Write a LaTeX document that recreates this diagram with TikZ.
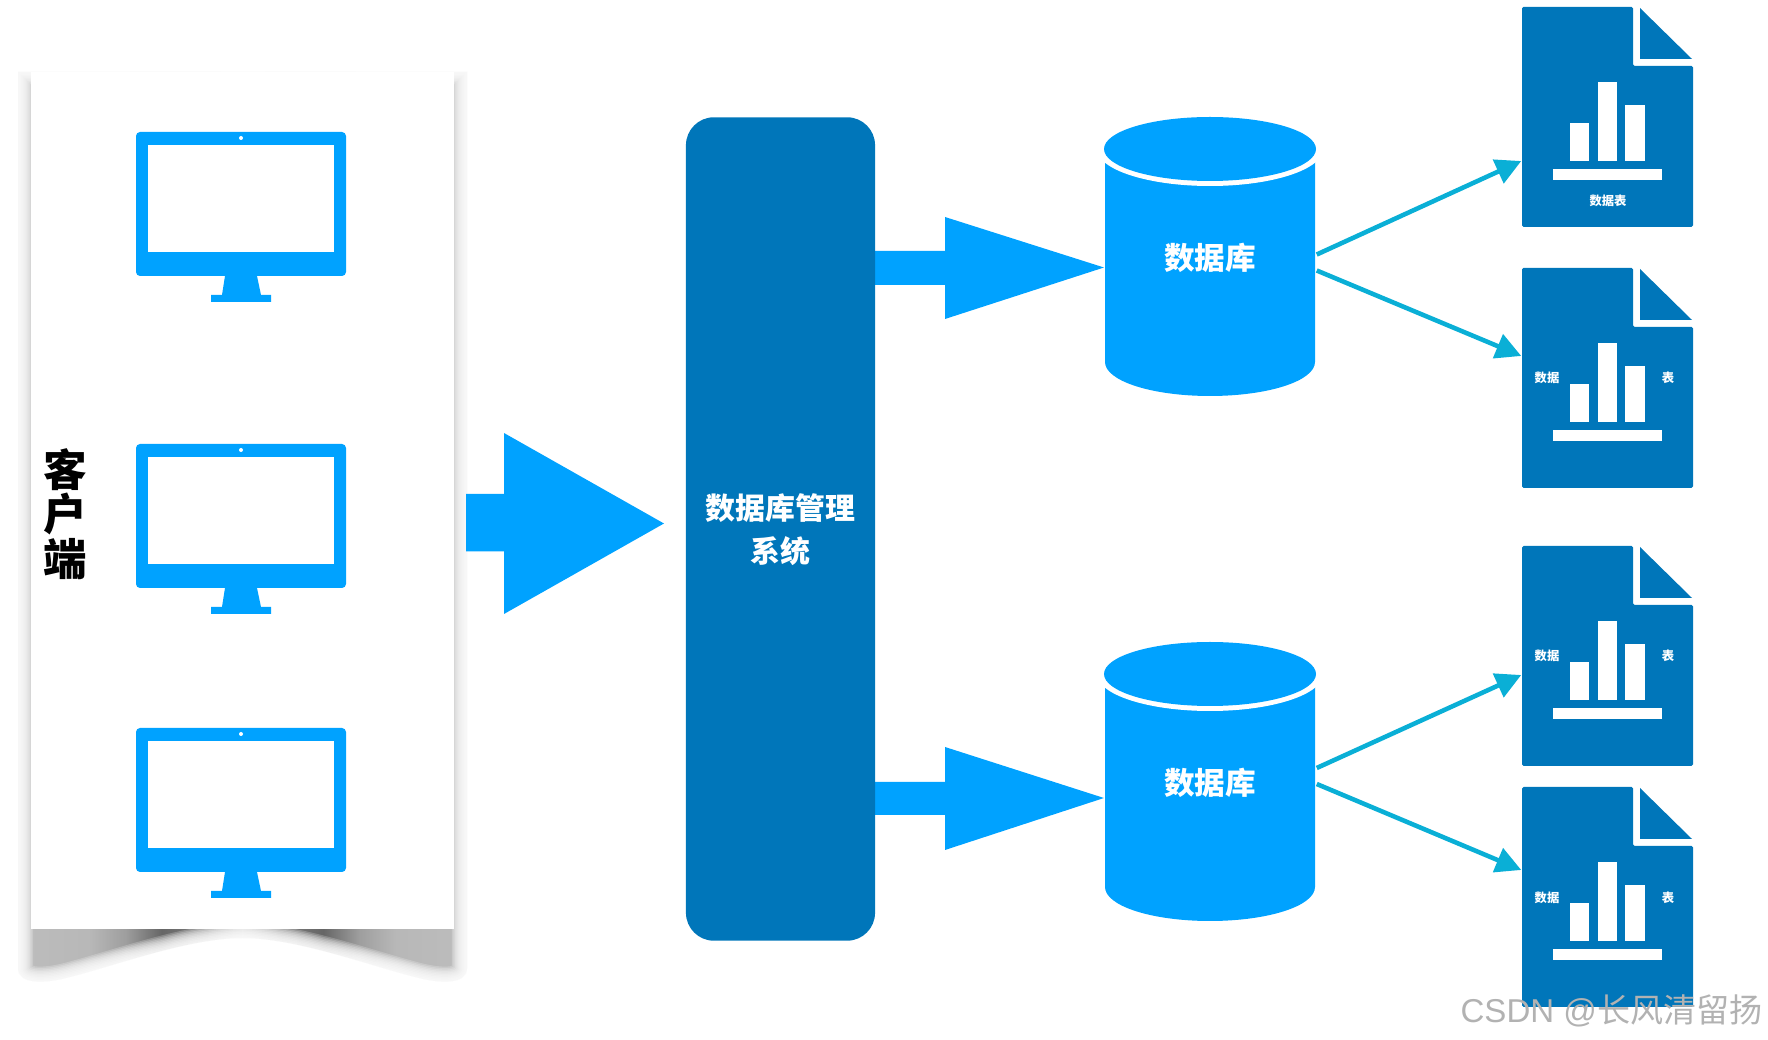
\documentclass[tikz,border=0pt]{standalone}
\usepackage{xcolor}
\usepackage{fontspec}
\usetikzlibrary{arrows.meta}
\setmainfont{Noto Sans CJK SC}
\newfontfamily\latinfont{Liberation Sans}

\definecolor{skyblue}{HTML}{00A2FF}
\definecolor{deepblue}{HTML}{0076BA}
\definecolor{linkblue}{HTML}{0AAFD6}

\pgfdeclarehorizontalshading{shadowshade}{100bp}{
    color(0bp)=(black!26); color(25bp)=(black!26); color(33bp)=(black!28);
    color(37bp)=(black!38); color(41bp)=(black!60); color(46bp)=(black!50); color(50bp)=(black!26);
    color(54bp)=(black!50); color(59bp)=(black!60); color(63bp)=(black!38); color(67bp)=(black!28);
    color(75bp)=(black!26); color(100bp)=(black!26)}

\newcommand{\shadowoutline}{(18,72) -- (18,968)
    .. controls (18,983) and (40,985) .. (70,977)
    .. controls (120,964) and (190,938) .. (242.5,938)
    .. controls (295,938) and (365,964) .. (415,977)
    .. controls (445,985) and (467,983) .. (467,968)
    -- (467,72) -- cycle}

\begin{document}
\begin{tikzpicture}[
    x=0.01cm, y=-0.01cm,
    >={Triangle[length=7.2pt,width=7.2pt]},
    cardbox/.style={fill=white, minimum width=4.23cm, minimum height=8.57cm, inner sep=0pt},
    dbmsbox/.style={fill=deepblue, rounded corners=2.8mm, minimum width=1.89cm, minimum height=8.23cm, inner sep=0pt},
    dbmstext/.style={inner sep=0pt, align=center, text=white, font=\fontsize{8.5}{12.2}\selectfont\bfseries},
    dbbox/.style={minimum width=2.12cm, minimum height=2.79cm, inner sep=0pt, text=white, font=\fontsize{8.7}{10}\selectfont\bfseries},
    docbox/.style={minimum width=1.71cm, minimum height=2.2cm, inner sep=0pt},
    doctext/.style={inner sep=0pt, text=white, font=\fontsize{3.5}{4}\selectfont\bfseries},
    bigarrow/.style={fill=skyblue},
    link/.style={->, draw=linkblue, line width=1.3pt},
    monitor/.pic={
        \fill[skyblue, rounded corners=0.4mm] (-105,0) rectangle (105,144);
        \fill[skyblue] (-16,144) -- (16,144) -- (20,163) -- (30,163) -- (30,170) -- (-30,170) -- (-30,163) -- (-19,163) -- cycle;
        \fill[white] (-93,13) rectangle (93,120);
        \fill[white] (0,6) circle (2);
    },
    database/.pic={
        \fill[skyblue] (-105,20) -- (-105,245) .. controls (-105,264) and (-58,279) .. (0,279) .. controls (58,279) and (105,264) .. (105,245) -- (105,20) -- cycle;
        \fill[white] (0,32) ellipse [x radius=113, y radius=37];
        \fill[skyblue] (0,32) ellipse [x radius=106, y radius=32];
        \node[dbbox] (-box) at (0,139.5) {};
    },
    datadoc/.pic={
        \fill[deepblue, rounded corners=0.15mm] (0,0) -- (111,0) -- (111,59) -- (171,59) -- (171,220) -- (0,220) -- cycle;
        \fill[deepblue] (118,1) -- (170,52) -- (118,52) -- cycle;
        \fill[white] (48,116) rectangle (67,154);
        \fill[white] (76,75) rectangle (95,154);
        \fill[white] (103,98) rectangle (123,154);
        \fill[white] (31,162) rectangle (140,173);
        \node[docbox] (-box) at (85.5,110) {};
    }
    ]

    % client card with its shadow
    \shade[shading=shadowshade] \shadowoutline;
    \foreach \w in {3,6,...,30}
        \draw[white, opacity=0.22, line width=\w*0.1mm] \shadowoutline;
    \node[cardbox] (card) at (242.5,500.5) {};
    \pic (pc1) at (241,132) {monitor};
    \pic (pc2) at (241,444) {monitor};
    \pic (pc3) at (241,728) {monitor};
    \node[inner sep=0pt, align=center, font=\fontsize{12.4}{12.6}\selectfont\bfseries] (client) at (65,514) {客\\户\\端};

    % block arrows
    \fill[bigarrow] (466,494) -- (504,494) -- (504,433) -- (664,523.5) -- (504,614) -- (504,551.5) -- (466,551.5) -- cycle;
    \fill[bigarrow] (875,251) -- (945,251) -- (945,217) -- (1104,267.5) -- (945,319) -- (945,285) -- (875,285) -- cycle;
    \fill[bigarrow] (875,782) -- (945,782) -- (945,747) -- (1104,798) -- (945,850) -- (945,815) -- (875,815) -- cycle;

    \node[dbmsbox] (dbms) at (780.5,529) {};
    \node[dbmstext] (dbmslabel) at (780.5,530) {数据库管理\\系统};

    \pic (db1) at (1210,117) {database};
    \pic (db2) at (1210,642) {database};
    \node[dbbox] (db1label) at (1210,258) {数据库};
    \node[dbbox] (db2label) at (1210,783) {数据库};

    \pic (doc1) at (1522,7) {datadoc};
    \pic (doc2) at (1522,268) {datadoc};
    \pic (doc3) at (1522,546) {datadoc};
    \pic (doc4) at (1522,787) {datadoc};

    \node[doctext] (doc1text) at (1608,201) {数据表};
    \node[doctext] (doc2left) at (1547,378) {数据};
    \node[doctext] (doc2right) at (1668,378) {表};
    \node[doctext] (doc3left) at (1547,656) {数据};
    \node[doctext] (doc3right) at (1668,656) {表};
    \node[doctext] (doc4left) at (1547,898) {数据};
    \node[doctext] (doc4right) at (1668,898) {表};

    \draw[link] ([yshift=0.2mm]db1-box.east) -- ([yshift=-4.4mm]doc1-box.west);
    \draw[link] ([yshift=-1.4mm]db1-box.east) -- ([yshift=2.2mm]doc2-box.west);
    \draw[link] ([yshift=1.35mm]db2-box.east) -- ([yshift=-1.9mm]doc3-box.west);
    \draw[link] ([yshift=-0.25mm]db2-box.east) -- ([yshift=2.7mm]doc4-box.west);

    % watermark
    \node[anchor=east, inner sep=0pt, text=black!30, font=\fontsize{9.4}{10}\selectfont] (mark) at (1763,1011) {{\latinfont CSDN @}长风清留扬};

    \useasboundingbox (0,0) rectangle (1768,1040);
\end{tikzpicture}
\end{document}
